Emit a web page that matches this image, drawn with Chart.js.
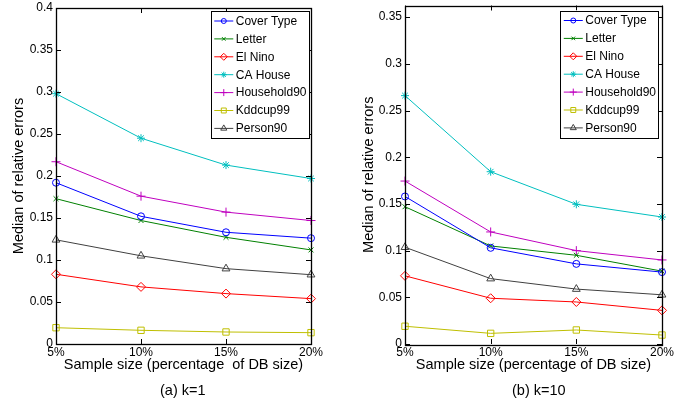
<!DOCTYPE html>
<html>
<head>
<meta charset="utf-8">
<script src="https://cdn.jsdelivr.net/npm/chart.js@4.4.1/dist/chart.umd.min.js"></script>
<style>
  body { margin: 0; background: #fff; }
  .panel { position: absolute; top: 0; height: 405px; }
  .caption { position: absolute; top: 382px; font: 14.5px "Liberation Sans", Arial, sans-serif; color: #000; white-space: nowrap; }
</style>
</head>
<body>
<div class="panel" style="left:0;width:345px"><canvas id="chartA"></canvas></div>
<div class="panel" style="left:345px;width:346px"><canvas id="chartB"></canvas></div>
<div class="caption" style="left:160px">(a) k=1</div>
<div class="caption" style="left:512px">(b) k=10</div>
<script>
// x categories and tick values
const categories = ["5%", "10%", "15%", "20%"];
const yTicksA = [0, 0.05, 0.1, 0.15, 0.2, 0.25, 0.3, 0.35, 0.4];
const yTicksB = [0, 0.05, 0.1, 0.15, 0.2, 0.25, 0.3, 0.35];

// (a) k=1
const coverTypeK1 = [0.192, 0.152, 0.133, 0.126];
const letterK1 = [0.173, 0.147, 0.127, 0.112];
const elNinoK1 = [0.083, 0.068, 0.060, 0.054];
const caHouseK1 = [0.298, 0.245, 0.213, 0.197];
const household90K1 = [0.217, 0.176, 0.157, 0.147];
const kddcup99K1 = [0.0194, 0.0163, 0.0143, 0.0135];
const person90K1 = [0.124, 0.105, 0.0897, 0.0825];

// (b) k=10
const coverTypeK10 = [0.158, 0.103, 0.0858, 0.077];
const letterK10 = [0.147, 0.105, 0.095, 0.078];
const elNinoK10 = [0.073, 0.049, 0.045, 0.036];
const caHouseK10 = [0.266, 0.1845, 0.1496, 0.136];
const household90K10 = [0.1745, 0.120, 0.100, 0.090];
const kddcup99K10 = [0.019, 0.0114, 0.015, 0.0096];
const person90K10 = [0.1036, 0.070, 0.0588, 0.0527];

const FONT = "'Liberation Sans', Arial, sans-serif";
Chart.defaults.font.family = FONT;
Chart.defaults.color = "#000";

const styles = [
  { label: "Cover Type", color: "#0000ff", pointStyle: "circle", radius: 3.5 },
  { label: "Letter", color: "#008000", pointStyle: "crossRot", radius: 3.5 },
  { label: "El Nino", color: "#ff0000", pointStyle: "rectRot", radius: 4.5 },
  { label: "CA House", color: "#00bfbf", pointStyle: "star", radius: 4 },
  { label: "Household90", color: "#bf00bf", pointStyle: "cross", radius: 4.5 },
  { label: "Kddcup99", color: "#bfbf00", pointStyle: "rect", radius: 4.5 },
  { label: "Person90", color: "#404040", pointStyle: "triangle", radius: 4.5 }
];

function makeDatasets(seriesList) {
  return seriesList.map((data, i) => ({
    label: styles[i].label,
    data: data,
    borderColor: styles[i].color,
    borderWidth: 1,
    pointStyle: styles[i].pointStyle,
    pointRadius: styles[i].radius,
    pointBorderColor: styles[i].color,
    pointBackgroundColor: "rgba(0,0,0,0)",
    pointBorderWidth: 1,
    fill: false,
    tension: 0,
    clip: false
  }));
}

// box around the plot with inward ticks on all four sides
const boxTicks = {
  id: "boxTicks",
  afterDatasetsDraw(chart) {
    const { ctx, chartArea: a, scales: { x, y } } = chart;
    ctx.save();
    ctx.strokeStyle = "#000";
    ctx.lineWidth = 1;
    ctx.beginPath();
    y.ticks.forEach(t => {
      const py = Math.round(y.getPixelForValue(t.value)) + 0.5;
      ctx.moveTo(a.left, py); ctx.lineTo(a.left + 5, py);
      ctx.moveTo(a.right, py); ctx.lineTo(a.right - 5, py);
    });
    x.ticks.forEach((t, i) => {
      const px = Math.round(x.getPixelForTick(i)) + 0.5;
      ctx.moveTo(px, a.bottom); ctx.lineTo(px, a.bottom - 5);
      ctx.moveTo(px, a.top); ctx.lineTo(px, a.top + 5);
    });
    ctx.stroke();
    ctx.lineWidth = 1.3;
    ctx.strokeRect(Math.round(a.left) + 0.5, Math.round(a.top) + 0.5, Math.round(a.width), Math.round(a.height));
    ctx.restore();
  }
};

// matlab style legend box in the north east corner
const boxLegend = {
  id: "boxLegend",
  afterDraw(chart, args, opts) {
    const { ctx, chartArea: a } = chart;
    const sets = chart.data.datasets;
    ctx.save();
    ctx.font = "12px " + FONT;
    const textW = Math.max(...sets.map(d => ctx.measureText(d.label).width));
    const w = 3.5 + 19 + 2.5 + textW + 2.5;
    const rowH = 17.9;
    const h = 10 + rowH * (sets.length - 1) + 9.6;
    const left = a.right - opts.gapRight - w;
    const top = a.top + opts.gapTop;
    ctx.fillStyle = "#fff";
    ctx.fillRect(left, top, w, h);
    ctx.strokeStyle = "#000";
    ctx.lineWidth = 1;
    ctx.strokeRect(Math.round(left) + 0.5, Math.round(top) + 0.5, Math.round(w), Math.round(h));
    sets.forEach((d, i) => {
      const cy = top + 10 + i * rowH;
      ctx.strokeStyle = d.borderColor;
      ctx.lineWidth = 1;
      ctx.beginPath();
      ctx.moveTo(left + 3.5, cy); ctx.lineTo(left + 22.5, cy);
      ctx.stroke();
      ctx.fillStyle = "rgba(0,0,0,0)";
      Chart.helpers.drawPoint(ctx, { pointStyle: d.pointStyle, radius: d.pointRadius - 1, rotation: 0, borderWidth: 1 }, left + 13, cy);
      ctx.fillStyle = "#000";
      ctx.textBaseline = "middle";
      ctx.textAlign = "left";
      ctx.fillText(d.label, left + 25, cy + 0.5);
    });
    ctx.restore();
  }
};

function makeChart(id, seriesList, yMax, yTicks, xTitle, pad, yWidth, legendGap) {
  return new Chart(document.getElementById(id), {
    type: "line",
    data: { labels: categories, datasets: makeDatasets(seriesList) },
    plugins: [boxTicks, boxLegend],
    options: {
      responsive: true,
      maintainAspectRatio: false,
      animation: false,
      layout: { padding: pad },
      plugins: {
        legend: { display: false },
        tooltip: { enabled: false },
        boxLegend: legendGap
      },
      scales: {
        x: {
          type: "category",
          offset: false,
          grid: { display: false, drawTicks: false },
          border: { display: false },
          ticks: { font: { size: 12 }, padding: 1.5, maxRotation: 0, autoSkip: false },
          title: { display: true, text: xTitle, font: { size: 14.5 }, padding: { top: 0, bottom: 0 } },
          afterFit: s => { s.paddingLeft = 0; s.paddingRight = 0; s.height = 30; }
        },
        y: {
          min: 0,
          max: yMax,
          afterBuildTicks: s => { s.ticks = yTicks.map(v => ({ value: v })); },
          afterFit: s => { s.paddingTop = 0; s.paddingBottom = 0; s.width = yWidth; },
          grid: { display: false, drawTicks: false },
          border: { display: false },
          ticks: { font: { size: 12 }, padding: 3, callback: v => String(v) },
          title: { display: true, text: "Median of relative errors", font: { size: 14.5 }, padding: { top: 0, bottom: 0 } }
        }
      }
    }
  });
}

makeChart("chartA",
  [coverTypeK1, letterK1, elNinoK1, caHouseK1, household90K1, kddcup99K1, person90K1],
  0.4, yTicksA, "Sample size (percentage  of DB size)",
  { left: 10.5, right: 34, top: 8, bottom: 31 }, 45.5,
  { gapRight: 2, gapTop: 3 });

makeChart("chartB",
  [coverTypeK10, letterK10, elNinoK10, caHouseK10, household90K10, kddcup99K10, person90K10],
  0.3625, yTicksB, "Sample size (percentage of DB size)",
  { left: 15, right: 29, top: 5, bottom: 31 }, 45,
  { gapRight: 3.5, gapTop: 5 });
</script>
</body>
</html>
